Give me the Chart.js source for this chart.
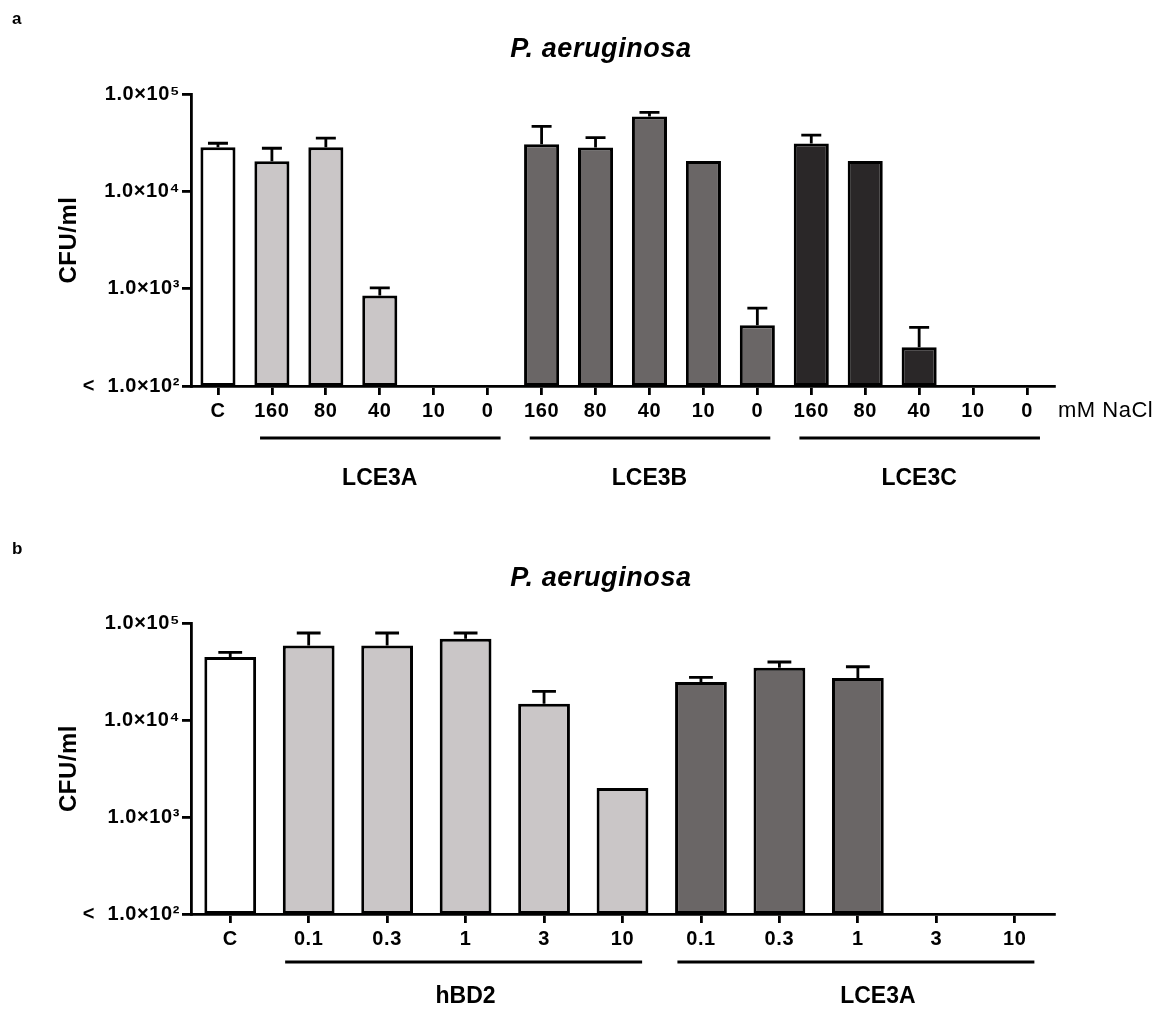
<!DOCTYPE html>
<html>
<head>
<meta charset="utf-8">
<script src="https://cdn.jsdelivr.net/npm/chart.js@4.4.1/dist/chart.umd.min.js"></script>
<style>
  html, body { margin: 0; padding: 0; background: #fff; }
  canvas { display: block; }
</style>
</head>
<body>
<canvas id="chartA" width="1166" height="528"></canvas>
<canvas id="chartB" width="1166" height="481"></canvas>
<script>
// y axis (shared by both panels)
const yTickValues = [100, 1000, 10000, 100000];
const yTickLabels = ['<  1.0×10²', '1.0×10³', '1.0×10⁴', '1.0×10⁵'];

// panel a : P. aeruginosa vs NaCl
const catsA = ['C', '160', '80', '40', '10', '0', '160', '80', '40', '10', '0', '160', '80', '40', '10', '0'];
const valuesA = [28400, 20400, 28400, 850, null, null, 30500, 28200, 58900, 20500, 420, 31000, 20500, 250, null, null];
const errTopA = [31200, 27700, 35200, 1020, null, null, 46400, 35700, 64600, null, 630, 37800, null, 400, null, null];
const barGroupA = [0, 1, 1, 1, 1, 1, 2, 2, 2, 2, 2, 3, 3, 3, 3, 3];
const groupNamesA = ['LCE3A', 'LCE3B', 'LCE3C'];
const groupFirstA = [1, 6, 11];
const groupLastA = [5, 10, 15];

// panel b : hBD2 vs LCE3A
const catsB = ['C', '0.1', '0.3', '1', '3', '10', '0.1', '0.3', '1', '3', '10'];
const valuesB = [44700, 58700, 58700, 68900, 14700, 1990, 24700, 34600, 27100, null, null];
const errTopB = [49800, 78900, 78900, 78900, 19700, null, 27500, 39600, 35400, null, null];
const barGroupB = [0, 1, 1, 1, 1, 1, 2, 2, 2, 2, 2];
const groupNamesB = ['hBD2', 'LCE3A'];
const groupFirstB = [1, 6];
const groupLastB = [5, 10];

const paletteA = ['#ffffff', '#cac6c7', '#6a6666', '#2a2728'];
const paletteB = ['#ffffff', '#cac6c7', '#6a6666'];

const FONT = '"Liberation Sans", Arial, sans-serif';

function drawText(ctx, text, x, y, font, align, spacing) {
    ctx.save();
    ctx.font = font;
    ctx.letterSpacing = spacing || '0px';
    ctx.fillStyle = '#000';
    ctx.textAlign = align;
    ctx.textBaseline = 'alphabetic';
    ctx.fillText(text, x, y);
    ctx.restore();
}

const annotate = {
    id: 'annotate',
    beforeDraw(chart) {
        // tick labels in the original are a bit loosely spaced
        chart.ctx.letterSpacing = '0.6px';
    },
    afterDatasetsDraw(chart, args, opts) {
        const ctx = chart.ctx;
        const yScale = chart.scales.y;
        const meta = chart.getDatasetMeta(0);
        ctx.save();
        ctx.strokeStyle = '#000';
        ctx.lineWidth = 2.8;
        opts.errTop.forEach((e, i) => {
            if (e == null || chart.data.datasets[0].data[i] == null) return;
            const bar = meta.data[i];
            const yTop = yScale.getPixelForValue(e);
            const half = bar.width * opts.capFrac / 2;
            ctx.beginPath();
            ctx.moveTo(bar.x, bar.y);
            ctx.lineTo(bar.x, yTop);
            ctx.moveTo(bar.x - half, yTop);
            ctx.lineTo(bar.x + half, yTop);
            ctx.stroke();
        });
        ctx.restore();
    },
    afterDraw(chart, args, opts) {
        const ctx = chart.ctx;
        const x = chart.scales.x;
        const area = chart.chartArea;
        const step = x.getPixelForValue(1) - x.getPixelForValue(0);

        // panel letter + title
        drawText(ctx, opts.letter, 12, opts.letterY, 'bold 17px ' + FONT, 'left');
        drawText(ctx, 'P. aeruginosa', 601, opts.titleY, 'italic bold 27px ' + FONT, 'center', '0.6px');

        // y axis title
        ctx.save();
        ctx.translate(76, (area.top + area.bottom) / 2);
        ctx.rotate(-Math.PI / 2);
        drawText(ctx, 'CFU/ml', 0, 0, 'bold 24px ' + FONT, 'center', '0.5px');
        ctx.restore();

        // group bars + names under the axis
        ctx.save();
        ctx.strokeStyle = '#000';
        ctx.lineWidth = 2.8;
        opts.groupNames.forEach((name, g) => {
            const x0 = x.getPixelForValue(opts.groupFirst[g]);
            const x1 = x.getPixelForValue(opts.groupLast[g]);
            ctx.beginPath();
            ctx.moveTo(x0 - step * opts.lead, opts.lineY);
            ctx.lineTo(x1 + step * opts.trail, opts.lineY);
            ctx.stroke();
            drawText(ctx, name, (x0 + x1) / 2 + (opts.nameShift ? opts.nameShift[g] : 0), opts.nameY, 'bold 23px ' + FONT, 'center');
        });
        ctx.restore();

        if (opts.unit) {
            drawText(ctx, opts.unit, area.right + 4, opts.unitY, '22px ' + FONT, 'left', '0.5px');
        }
    }
};

function makeChart(id, cats, values, groups, palette, padTop, xHeight, barPct, annot) {
    const ctx = document.getElementById(id).getContext('2d');
    return new Chart(ctx, {
        type: 'bar',
        data: {
            labels: cats,
            datasets: [{
                data: values,
                backgroundColor: groups.map(g => palette[g]),
                borderColor: '#000',
                borderWidth: 3,
                borderSkipped: false,
                barPercentage: barPct,
                categoryPercentage: 1
            }]
        },
        options: {
            responsive: false,
            animation: false,
            layout: { padding: { top: padTop, right: 112, left: 0, bottom: 0 } },
            plugins: {
                legend: { display: false },
                tooltip: { enabled: false },
                annotate: annot
            },
            scales: {
                x: {
                    type: 'category',
                    offset: true,
                    grid: { offset: false, drawOnChartArea: false, drawTicks: true, tickLength: 9, color: '#000', lineWidth: 2.8 },
                    border: { display: true, color: '#000', width: 2.8 },
                    ticks: { color: '#000', font: { family: FONT, size: 20, weight: 'bold' }, padding: 4, maxRotation: 0, autoSkip: false },
                    afterFit: s => { s.height = xHeight; }
                },
                y: {
                    type: 'logarithmic',
                    min: 100,
                    max: 100000,
                    afterBuildTicks: s => { s.ticks = yTickValues.map(v => ({ value: v })); },
                    grid: { drawOnChartArea: false, drawTicks: true, tickLength: 9, color: '#000', lineWidth: 2.8 },
                    border: { display: true, color: '#000', width: 2.8 },
                    ticks: {
                        color: '#000',
                        font: { family: FONT, size: 20, weight: 'bold' },
                        padding: 2,
                        callback: (v, i) => yTickLabels[i]
                    },
                    afterFit: s => { s.width = 191; }
                }
            }
        },
        plugins: [annotate]
    });
}

makeChart('chartA', catsA, valuesA, barGroupA, paletteA, 94, 142, 0.65, {
    errTop: errTopA, capFrac: 0.57,
    letter: 'a', letterY: 24, titleY: 57,
    groupNames: groupNamesA, groupFirst: groupFirstA, groupLast: groupLastA,
    lead: 0.22, trail: 0.24, lineY: 438, nameY: 485,
    unit: 'mM NaCl', unitY: 417
});

makeChart('chartB', catsB, valuesB, barGroupB, paletteB, 95, 95, 0.66, {
    errTop: errTopB, capFrac: 0.46,
    letter: 'b', letterY: 26, titleY: 58,
    groupNames: groupNamesB, groupFirst: groupFirstB, groupLast: groupLastB,
    lead: 0.3, trail: 0.25, lineY: 434, nameY: 475, nameShift: [0, 20]
});
</script>
</body>
</html>
